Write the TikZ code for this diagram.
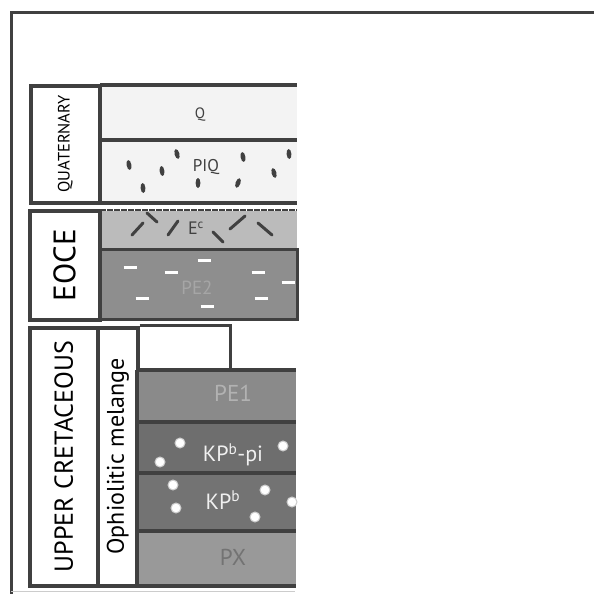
\documentclass[tikz,border=0pt]{standalone}
\usepackage{fontspec}
\setmainfont{PT Sans}
\definecolor{frame}{HTML}{404040}
\definecolor{qfill}{HTML}{F3F3F3}
\definecolor{ec}{HTML}{BBBBBB}
\definecolor{pe2}{HTML}{8E8E8E}
\definecolor{pe1}{HTML}{8A8A8A}
\definecolor{kpbpi}{HTML}{6E6E6E}
\definecolor{kpb}{HTML}{737373}
\definecolor{px}{HTML}{999999}
\tikzset{agebox/.style={draw=frame,line width=4pt,fill=white,rectangle,inner sep=0pt,rotate=90}}
\tikzset{band/.style={rectangle,inner sep=0pt,minimum width=197pt}}
\tikzset{layer/.style={rectangle,inner sep=0pt,minimum width=158.5pt}}
\tikzset{sep/.style={draw=frame,line width=4pt}}
\tikzset{lbl/.style={inner sep=0pt,font=\fontsize{#1}{#1}\selectfont}}

\begin{document}
\begin{tikzpicture}[x=1pt,y=-1pt]
    \useasboundingbox (0,0) rectangle (594,594);
    % outer frame
    \draw[frame,line width=3pt] (11,594) -- (11,13) -- (594,13);
    \draw[gray!40,line width=1pt] (11,591) -- (295,591);

    % quaternary
    \node[band,fill=qfill,minimum height=54.5pt] (q) at (198.5,112.75) {};
    \node[band,fill=qfill,minimum height=62.5pt] (piq) at (198.5,171.25) {};
    \node[lbl=15pt,text=frame] (qtxt) at (200,115) {Q};
    \node[lbl=17pt,text=frame] (piqtxt) at (206,167) {PIQ};
    \foreach \x/\y/\r in {129/165/10, 143/188/5, 162/171/8, 177/154/15, 198/183/0,
                          238/183/-20, 243/157/10, 274/173/15, 289/154/5}
        \fill[frame,rotate around={\r:(\x,\y)}] (\x,\y) ellipse (2.4 and 5);
    \draw[sep] (q.north west) -- (q.north east);
    \draw[sep] (q.south west) -- (q.south east);
    \draw[sep] (piq.south west) -- (piq.south east);
    \node[agebox,minimum width=117pt,minimum height=69.5pt,font=\fontsize{16.5pt}{16.5pt}\selectfont] (quat) at (65.25,144) {QUATERNARY};

    % eocene
    \node[band,fill=ec,minimum height=38.5pt] (ec) at (198.5,229.75) {};
    \draw[frame,line width=2pt,dash pattern=on 6pt off 1pt] (ec.north west) -- (ec.north east);
    \node[band,fill=pe2,draw=frame,line width=3pt,minimum height=70pt] (pe2) at (198.5,284) {};
    \node[lbl=18pt,text=frame] (ectxt) at (196,228) {E\textsuperscript{c}};
    \foreach \xa/\ya/\xb/\yb in {132/235/143/223, 147/213/157/222, 168/235/178/221,
                                 213/232/223/242, 230/229/245/216, 258/223/272/235}
        \draw[frame,line width=3pt,line cap=round] (\xa,\ya) -- (\xb,\yb);
    \foreach \x/\y in {130/267, 142/298, 171/272, 204/260, 207/306, 258/272, 261/298, 288/282}
        \draw[white,line width=3pt] (\x-6.5,\y) -- (\x+6.5,\y);
    \node[lbl=19pt,text=gray!70] (pe2txt) at (197,288) {PE2};
    \node[agebox,minimum width=109.5pt,minimum height=70pt,font=\fontsize{31pt}{31pt}\selectfont] (eoce) at (64.5,265.25) {EOCE};

    % upper cretaceous
    \node[agebox,minimum width=258pt,minimum height=68.5pt,font=\fontsize{26pt}{26pt}\selectfont] (uc) at (63.75,456.5) {UPPER CRETACEOUS};
    \node[agebox,minimum width=258pt,minimum height=39.5pt,font=\fontsize{24pt}{24pt}\selectfont] (ophio) at (117.75,456.5) {Ophiolitic melange};
    \coordinate (bend) at (230,327.5);

    \node[layer,fill=pe1,minimum height=52pt] (pe1) at (216.75,396) {};
    \node[layer,fill=kpbpi,minimum height=51pt] (kpbpi) at (216.75,447.5) {};
    \node[layer,fill=kpb,minimum height=58pt] (kpb) at (216.75,502) {};
    \node[layer,fill=px,minimum height=54.5pt] (px) at (216.75,558.25) {};
    \draw[frame,line width=3pt] (ophio.south east) -| (bend |- pe1.north);
    \draw[sep] (pe1.north west) -- (pe1.north east);
    \draw[sep] (pe1.south west) -- (pe1.south east);
    \draw[sep] (kpbpi.south west) -- (kpbpi.south east);
    \draw[sep] (kpb.south west) -- (kpb.south east);
    \draw[sep] (px.south west) -- (px.south east);
    \draw[sep] (pe1.north west) -- (px.south west);
    \foreach \x/\y in {180/443, 160/462, 283/446, 173/485, 176/508, 265/490, 255/517, 292/502}
        \filldraw[fill=white,draw=gray!40,line width=1pt] (\x,\y) circle (5);
    \node[lbl=23pt,text=gray!60] (pe1txt) at (233,393) {PE1};
    \node[lbl=22pt,text=white!94!black] (kpbpitxt) at (233,455) {KP\textsuperscript{b}-pi};
    \node[lbl=22pt,text=white!94!black] (kpbtxt) at (223,500) {KP\textsuperscript{b}};
    \node[lbl=23pt,text=black!55] (pxtxt) at (233,557) {PX};
\end{tikzpicture}
\end{document}
